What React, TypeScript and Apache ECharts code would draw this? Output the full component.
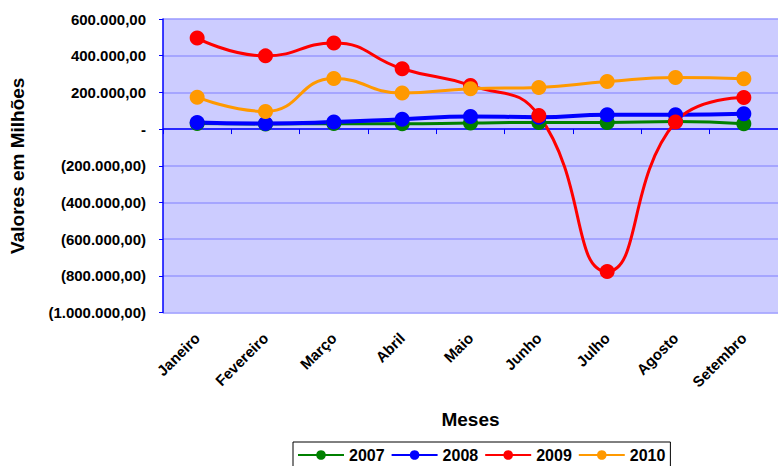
import React, { useEffect, useRef } from "react";
import * as echarts from "echarts";

const months = ["Janeiro", "Fevereiro", "Março", "Abril", "Maio", "Junho", "Julho", "Agosto", "Setembro"];
const seriesNames = ["2007", "2008", "2009", "2010"];
const v2007 = [30000, 28000, 30000, 29000, 33000, 36000, 36000, 41000, 29000];
const v2008 = [36000, 30000, 38000, 54000, 69000, 65000, 78000, 78000, 83000];
const v2009 = [496000, 399000, 469000, 329000, 238000, 74000, -776000, 38000, 172000];
const v2010 = [174000, 96000, 276000, 196000, 220000, 227000, 259000, 281000, 274000];
const yTickValues = [600000, 400000, 200000, 0, -200000, -400000, -600000, -800000, -1000000];
const yTickLabels = [
  "600.000,00", "400.000,00", "200.000,00", "-", "(200.000,00)",
  "(400.000,00)", "(600.000,00)", "(800.000,00)", "(1.000.000,00)",
];
const colors = ["#008000", "#0000FF", "#FF0000", "#FF9900"];

const FONT = "'Liberation Sans', Arial, sans-serif";

export default function App() {
  const ref = useRef<HTMLDivElement>(null);
  useEffect(() => {
    if (!ref.current) return;
    const chart = echarts.init(ref.current, null, { renderer: "svg" });
    const values = [v2007, v2008, v2009, v2010];
    chart.setOption({
      animation: false,
      textStyle: { fontFamily: FONT },
      grid: { left: 154, top: 19, width: 630, height: 293.5, show: true, backgroundColor: "#CCCCFF", borderWidth: 0 },
      legend: {
        left: 293,
        top: 442,
        backgroundColor: "#FFFFFF",
        borderColor: "#000000",
        borderWidth: 1,
        padding: [5, 5, 8, 4],
        itemGap: 6,
        itemWidth: 46,
        itemHeight: 12,
        textStyle: { fontFamily: FONT, fontWeight: "bold", fontSize: 16, color: "#000" },
        data: seriesNames,
      },
      xAxis: [
        {
          type: "category",
          data: months,
          position: "bottom",
          axisLine: { show: false, onZero: false },
          axisTick: { show: false },
          axisLabel: {
            rotate: 45,
            margin: 23,
            fontFamily: FONT,
            fontWeight: "bold",
            fontSize: 15,
            color: "#000",
            interval: 0,
          },
          name: "Meses",
          nameLocation: "middle",
          nameGap: 97,
          nameTextStyle: { fontFamily: FONT, fontWeight: "bold", fontSize: 19, color: "#000" },
          splitLine: { show: false },
        },
        {
          type: "category",
          data: months,
          position: "bottom",
          axisLine: { show: true, onZero: true, lineStyle: { color: "#0000FF", width: 1.5 } },
          axisTick: { show: true, inside: false, length: 5, lineStyle: { color: "#0000FF" } },
          axisLabel: { show: false },
          splitLine: { show: false },
        },
      ],
      yAxis: {
        type: "value",
        min: -1000000,
        max: 600000,
        interval: 200000,
        axisLine: { show: true, lineStyle: { color: "#0000FF", width: 1.5 } },
        axisTick: { show: true, length: 4, lineStyle: { color: "#0000FF" } },
        splitLine: { show: true, lineStyle: { color: "#9999FF", width: 1.5 } },
        axisLabel: {
          margin: 17,
          fontFamily: FONT,
          fontWeight: "bold",
          fontSize: 15,
          color: "#000",
          formatter: (v: number) => {
            const i = yTickValues.indexOf(v);
            return i >= 0 ? yTickLabels[i] : "";
          },
        },
        name: "Valores em Milhões",
        nameLocation: "middle",
        nameRotate: 90,
        nameGap: 136,
        nameTextStyle: { fontFamily: FONT, fontWeight: "bold", fontSize: 19, color: "#000" },
      },
      series: seriesNames.map((name, i) => ({
        name,
        type: "line",
        xAxisIndex: 0,
        data: values[i],
        smooth: true,
        symbol: "circle",
        symbolSize: 15,
        color: colors[i],
        lineStyle: { color: colors[i], width: i === 1 ? 4 : 3 },
        itemStyle: { color: colors[i] },
      })),
    });
    return () => chart.dispose();
  }, []);
  return <div ref={ref} style={{ position: "absolute", left: 0, top: 0, width: 778, height: 466 }} />;
}
